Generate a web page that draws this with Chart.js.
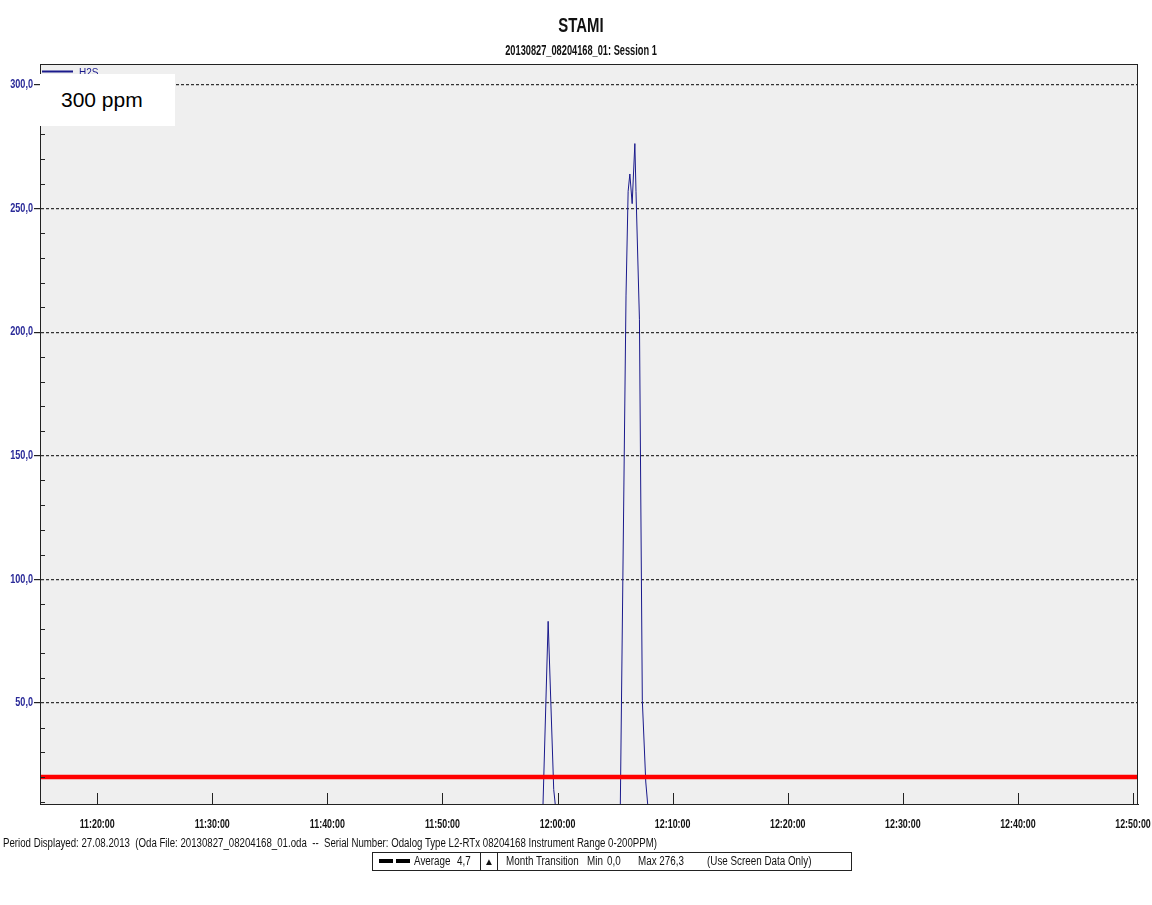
<!DOCTYPE html>
<html>
<head>
<meta charset="utf-8">
<title>STAMI</title>
<script src="https://cdn.jsdelivr.net/npm/chart.js@4.4.0/dist/chart.umd.min.js"></script>
<style>
  html, body { margin: 0; padding: 0; background: #fff; }
  body {
    width: 1152px; height: 905px; position: relative; overflow: hidden;
    font-family: 'Liberation Sans', Arial, sans-serif;
    color: #111;
  }
  #chart { position: absolute; left: 0; top: 0; }
  .title { position: absolute; left: 581px; white-space: nowrap; font-weight: bold; line-height: 1; }
  #t1 { top: 14px; font-size: 21px; transform: translateX(-50%) scaleX(0.71); }
  #t2 { top: 43px; font-size: 14px; transform: translateX(-50%) scaleX(0.66); }
  #note {
    position: absolute; left: 40px; top: 74px; width: 135px; height: 52px;
    background: #fff; font-size: 21px; line-height: 52px; padding-left: 21px;
    box-sizing: border-box; color: #000;
  }
  #footer {
    position: absolute; left: 3px; top: 837px; font-size: 12px; line-height: 1; white-space: nowrap;
    transform: scaleX(0.806); transform-origin: 0 0;
  }
  #legendBox {
    position: absolute; left: 372px; top: 852px; width: 480px; height: 19px;
    border: 1px solid #222; box-sizing: border-box; font-size: 12px; white-space: nowrap;
  }
  #legendBox span { position: absolute; top: 2px; line-height: 1; }
  #legendBox .txt { transform: scaleX(0.82); transform-origin: 0 0; }
  #legendBox .dash { top: 6px; height: 4px; width: 14px; background: #000; }
  #legendBox .tri {
    top: 0; height: 17px; width: 16px; border-left: 1px solid #222; border-right: 1px solid #222;
    text-align: center; font-size: 10px; line-height: 17px;
  }
</style>
</head>
<body>
<canvas id="chart" width="1152" height="905"></canvas>
<div class="title" id="t1">STAMI</div>
<div class="title" id="t2">20130827_08204168_01: Session 1</div>
<div id="note">300 ppm</div>
<div id="footer">Period Displayed: 27.08.2013&nbsp; (Oda File: 20130827_08204168_01.oda&nbsp; --&nbsp; Serial Number: Odalog Type L2-RTx 08204168 Instrument Range 0-200PPM)</div>
<div id="legendBox">
  <span class="dash" style="left:6px"></span>
  <span class="dash" style="left:23px"></span>
  <span class="txt" style="left:41px">Average</span>
  <span class="txt" style="left:84px">4,7</span>
  <span class="tri" style="left:107px">&#9650;</span>
  <span class="txt" style="left:133px">Month Transition</span>
  <span class="txt" style="left:214px">Min</span>
  <span class="txt" style="left:234px">0,0</span>
  <span class="txt" style="left:265px">Max 276,3</span>
  <span class="txt" style="left:334px">(Use Screen Data Only)</span>
</div>

<script>
// H2S readings (time of sample, ppm)
const sampleTimes = ['11:15:00', '11:58:41', '11:59:11', '11:59:40', '12:00:00',
                     '12:05:26', '12:05:57', '12:06:08', '12:06:17', '12:06:29', '12:06:43',
                     '12:06:49', '12:07:07', '12:07:22', '12:07:40', '12:08:00', '12:51:00'];
const h2sValues = [0, 0, 83, 15, 0,
                   0, 215, 257, 264, 252, 276.3,
                   257, 205, 51, 18, 0, 0];

// red alarm line
const limitTimes = ['11:15:00', '12:51:00'];
const limitValues = [20, 20];

// axis ranges and ticks
const xStart = '11:15:02';
const xEnd = '12:50:26';
const yMin = 9.1;
const yMax = 308.5;
const xTickLabels = ['11:20:00', '11:30:00', '11:40:00', '11:50:00', '12:00:00',
                     '12:10:00', '12:20:00', '12:30:00', '12:40:00', '12:50:00'];
const yTickValues = [10, 20, 30, 40, 50, 60, 70, 80, 90, 100, 110, 120, 130, 140, 150,
                     160, 170, 180, 190, 200, 210, 220, 230, 240, 250, 260, 270, 280, 290, 300];

const fontFam = "'Liberation Sans', Arial, sans-serif";

function toSec(t) {
    const [h, m, s] = t.split(':').map(Number);
    return h * 3600 + m * 60 + s;
}

function fmtTime(v) {
    const s = Math.round(v);
    const pad = n => String(n).padStart(2, '0');
    return pad(Math.floor(s / 3600)) + ':' + pad(Math.floor(s / 60) % 60) + ':' + pad(s % 60);
}

const isMajor = v => Math.round(v) % 50 === 0;

// plot background, frame, inner ticks and the little H2S legend
const plotFrame = {
    id: 'plotFrame',
    beforeDraw(chart) {
        const { ctx, chartArea: { left, top, width, height } } = chart;
        ctx.save();
        ctx.fillStyle = '#efefef';
        ctx.fillRect(left, top, width, height);
        ctx.restore();
    },
    afterDraw(chart) {
        const { ctx, chartArea: { left, top, right, bottom }, scales: { x, y } } = chart;
        ctx.save();
        ctx.strokeStyle = '#222';
        ctx.lineWidth = 1;
        ctx.strokeRect(left + 0.5, top + 0.5, right - left - 1, bottom - top);

        ctx.beginPath();
        y.ticks.forEach(t => {
            if (isMajor(t.value)) return;
            const py = Math.round(y.getPixelForValue(t.value)) + 0.5;
            ctx.moveTo(left, py);
            ctx.lineTo(left + 5, py);
        });
        x.ticks.forEach(t => {
            const px = Math.round(x.getPixelForValue(t.value)) + 0.5;
            ctx.moveTo(px, bottom);
            ctx.lineTo(px, bottom - 11);
        });
        ctx.stroke();

        // tick labels, condensed like the original
        ctx.font = 'bold 12px ' + fontFam;
        ctx.fillStyle = '#111';
        ctx.textAlign = 'center';
        ctx.textBaseline = 'alphabetic';
        x.ticks.forEach(t => {
            ctx.save();
            ctx.translate(x.getPixelForValue(t.value), bottom + 24);
            ctx.scale(0.74, 1);
            ctx.fillText(fmtTime(t.value), 0, 0);
            ctx.restore();
        });
        ctx.fillStyle = '#2b2b99';
        ctx.textAlign = 'right';
        ctx.textBaseline = 'middle';
        y.ticks.forEach(t => {
            if (!isMajor(t.value)) return;
            ctx.save();
            ctx.translate(left - 7, y.getPixelForValue(t.value));
            ctx.scale(0.76, 1);
            ctx.fillText(t.value.toFixed(1).replace('.', ','), 0, 0);
            ctx.restore();
        });

        // legend entry (mostly hidden under the note box)
        ctx.strokeStyle = '#1a1a8c';
        ctx.lineWidth = 2;
        ctx.beginPath();
        ctx.moveTo(left + 2, top + 7.5);
        ctx.lineTo(left + 33, top + 7.5);
        ctx.stroke();
        ctx.fillStyle = '#1a1a8c';
        ctx.font = '10px ' + fontFam;
        ctx.textAlign = 'left';
        ctx.fillText('H2S', left + 39, top + 9);
        ctx.restore();
    }
};

new Chart(document.getElementById('chart'), {
    type: 'line',
    data: {
        datasets: [{
            label: 'Limit',
            data: limitTimes.map((t, i) => ({ x: toSec(t), y: limitValues[i] })),
            borderColor: '#ff0000',
            borderWidth: 4.5,
            pointRadius: 0,
            clip: 0,
            order: 0
        }, {
            label: 'H2S',
            data: sampleTimes.map((t, i) => ({ x: toSec(t), y: h2sValues[i] })),
            borderColor: '#1a1a8c',
            borderWidth: 1,
            pointRadius: 0,
            tension: 0,
            clip: 0,
            order: 1
        }]
    },
    options: {
        responsive: false,
        animation: false,
        devicePixelRatio: 1,
        layout: { padding: { top: 64, right: 14, bottom: 61, left: 0 } },
        plugins: {
            legend: { display: false },
            tooltip: { enabled: false }
        },
        scales: {
            x: {
                type: 'linear',
                min: toSec(xStart),
                max: toSec(xEnd),
                afterBuildTicks(scale) { scale.ticks = xTickLabels.map(t => ({ value: toSec(t) })); },
                afterFit(scale) { scale.height = 40; scale.paddingLeft = 0; scale.paddingRight = 0; },
                grid: { display: false },
                border: { display: true, color: '#222', width: 1 },
                ticks: { display: false, autoSkip: false }
            },
            y: {
                min: yMin,
                max: yMax,
                afterBuildTicks(scale) { scale.ticks = yTickValues.map(v => ({ value: v })); },
                afterFit(scale) { scale.width = 40; scale.paddingTop = 0; scale.paddingBottom = 0; },
                grid: {
                    color: c => isMajor(c.tick.value) ? '#333' : 'rgba(0,0,0,0)',
                    tickColor: c => isMajor(c.tick.value) ? '#222' : 'rgba(0,0,0,0)',
                    lineWidth: 1.2,
                    tickLength: 6
                },
                border: { display: true, color: '#222', width: 1, dash: [3, 2] },
                ticks: { display: false, autoSkip: false }
            }
        }
    },
    plugins: [plotFrame]
});
</script>
</body>
</html>
